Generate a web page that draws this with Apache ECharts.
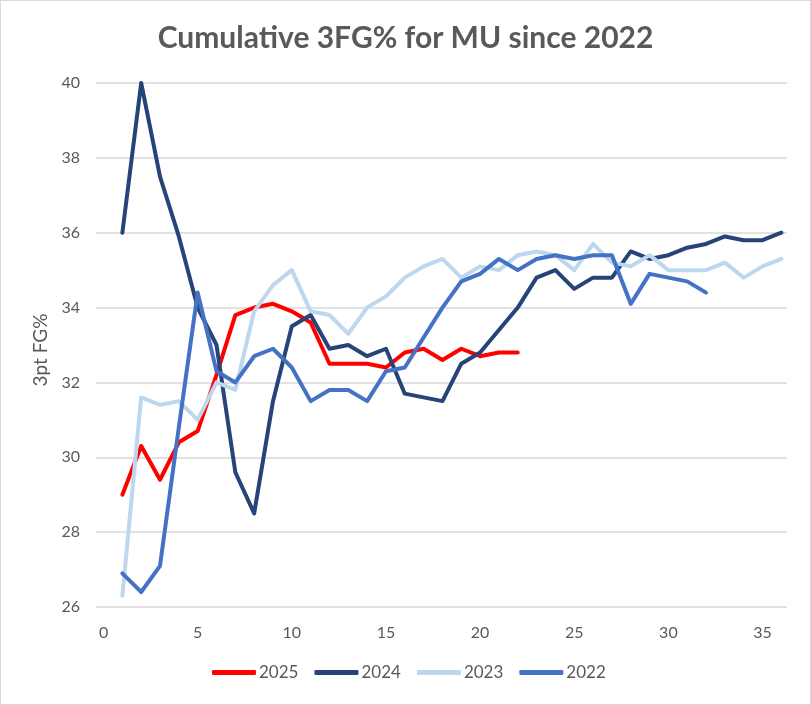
<!DOCTYPE html>
<html>
<head>
<meta charset="utf-8">
<script src="https://cdn.jsdelivr.net/npm/echarts@6/dist/echarts.min.js"></script>
<style>
  html, body { margin: 0; padding: 0; background: #fff; }
  #chart { width: 809px; height: 703px; border: 1px solid #d9d9d9; }
</style>
</head>
<body>
<div id="chart"></div>
<script>
const titleText = "Cumulative 3FG% for MU since 2022";
const yAxisName = "3pt FG%";
const seriesNames = ["2025", "2024", "2023", "2022"];
const colors = ["#ff0000", "#264478", "#bdd7ee", "#4472c4"];
const xTickLabels = [0, 5, 10, 15, 20, 25, 30, 35];

const v2025 = [29.0, 30.3, 29.4, 30.4, 30.7, 32.2, 33.8, 34.0, 34.1, 33.9, 33.6, 32.5, 32.5, 32.5, 32.4, 32.8, 32.9, 32.6, 32.9, 32.7, 32.8, 32.8];
const v2024 = [36.0, 40.0, 37.5, 35.9, 34.0, 33.0, 29.6, 28.5, 31.5, 33.5, 33.8, 32.9, 33.0, 32.7, 32.9, 31.7, 31.6, 31.5, 32.5, 32.8, 33.4, 34.0, 34.8, 35.0, 34.5, 34.8, 34.8, 35.5, 35.3, 35.4, 35.6, 35.7, 35.9, 35.8, 35.8, 36.0];
const v2023 = [26.3, 31.6, 31.4, 31.5, 31.0, 32.0, 31.8, 33.9, 34.6, 35.0, 33.9, 33.8, 33.3, 34.0, 34.3, 34.8, 35.1, 35.3, 34.8, 35.1, 35.0, 35.4, 35.5, 35.4, 35.0, 35.7, 35.2, 35.1, 35.4, 35.0, 35.0, 35.0, 35.2, 34.8, 35.1, 35.3];
const v2022 = [26.9, 26.4, 27.1, 30.8, 34.4, 32.3, 32.0, 32.7, 32.9, 32.4, 31.5, 31.8, 31.8, 31.5, 32.3, 32.4, 33.2, 34.0, 34.7, 34.9, 35.3, 35.0, 35.3, 35.4, 35.3, 35.4, 35.4, 34.1, 34.9, 34.8, 34.7, 34.4];
const allValues = [v2025, v2024, v2023, v2022];

const FONT = "Lato, 'Open Sans', sans-serif";
const chart = echarts.init(document.getElementById('chart'));
chart.setOption({
  animation: false,
  backgroundColor: '#fff',
  title: {
    text: titleText,
    left: 'center',
    top: 17,
    textStyle: { fontFamily: FONT, fontSize: 30, fontWeight: 'bold', color: '#595959' }
  },
  legend: {
    bottom: 18,
    left: 206,
    itemWidth: 44,
    itemHeight: 5,
    itemGap: 16,
    icon: 'roundRect',
    textStyle: { fontFamily: FONT, fontSize: 17, color: '#595959', padding: [0, 0, 0, -2] },
    data: seriesNames
  },
  grid: { left: 95, right: 23, top: 82, bottom: 97, containLabel: false },
  xAxis: {
    type: 'value',
    min: -0.4,
    max: 36.3,
    axisLine: { show: false },
    axisTick: { show: false },
    splitLine: { show: false },
    axisLabel: { fontFamily: FONT, fontSize: 16, color: '#595959', margin: 18,
      customValues: xTickLabels }
  },
  yAxis: {
    type: 'value',
    min: 26,
    max: 40,
    interval: 2,
    name: yAxisName,
    nameLocation: 'middle',
    nameGap: 46,
    nameTextStyle: { fontFamily: FONT, fontSize: 19, color: '#595959', padding: [0, 10, 0, 0] },
    axisLine: { show: false },
    axisTick: { show: false },
    splitLine: { lineStyle: { color: '#d9d9d9', width: 1.5 } },
    axisLabel: { fontFamily: FONT, fontSize: 16, color: '#595959', margin: 16 }
  },
  series: seriesNames.map((name, i) => ({
    name: name,
    type: 'line',
    data: allValues[i].map((v, j) => [j + 1, v]),
    showSymbol: false,
    symbol: 'none',
    color: colors[i],
    lineStyle: { width: 4, color: colors[i], cap: 'round', join: 'round' },
    z: 2 + i
  }))
});
</script>
</body>
</html>
